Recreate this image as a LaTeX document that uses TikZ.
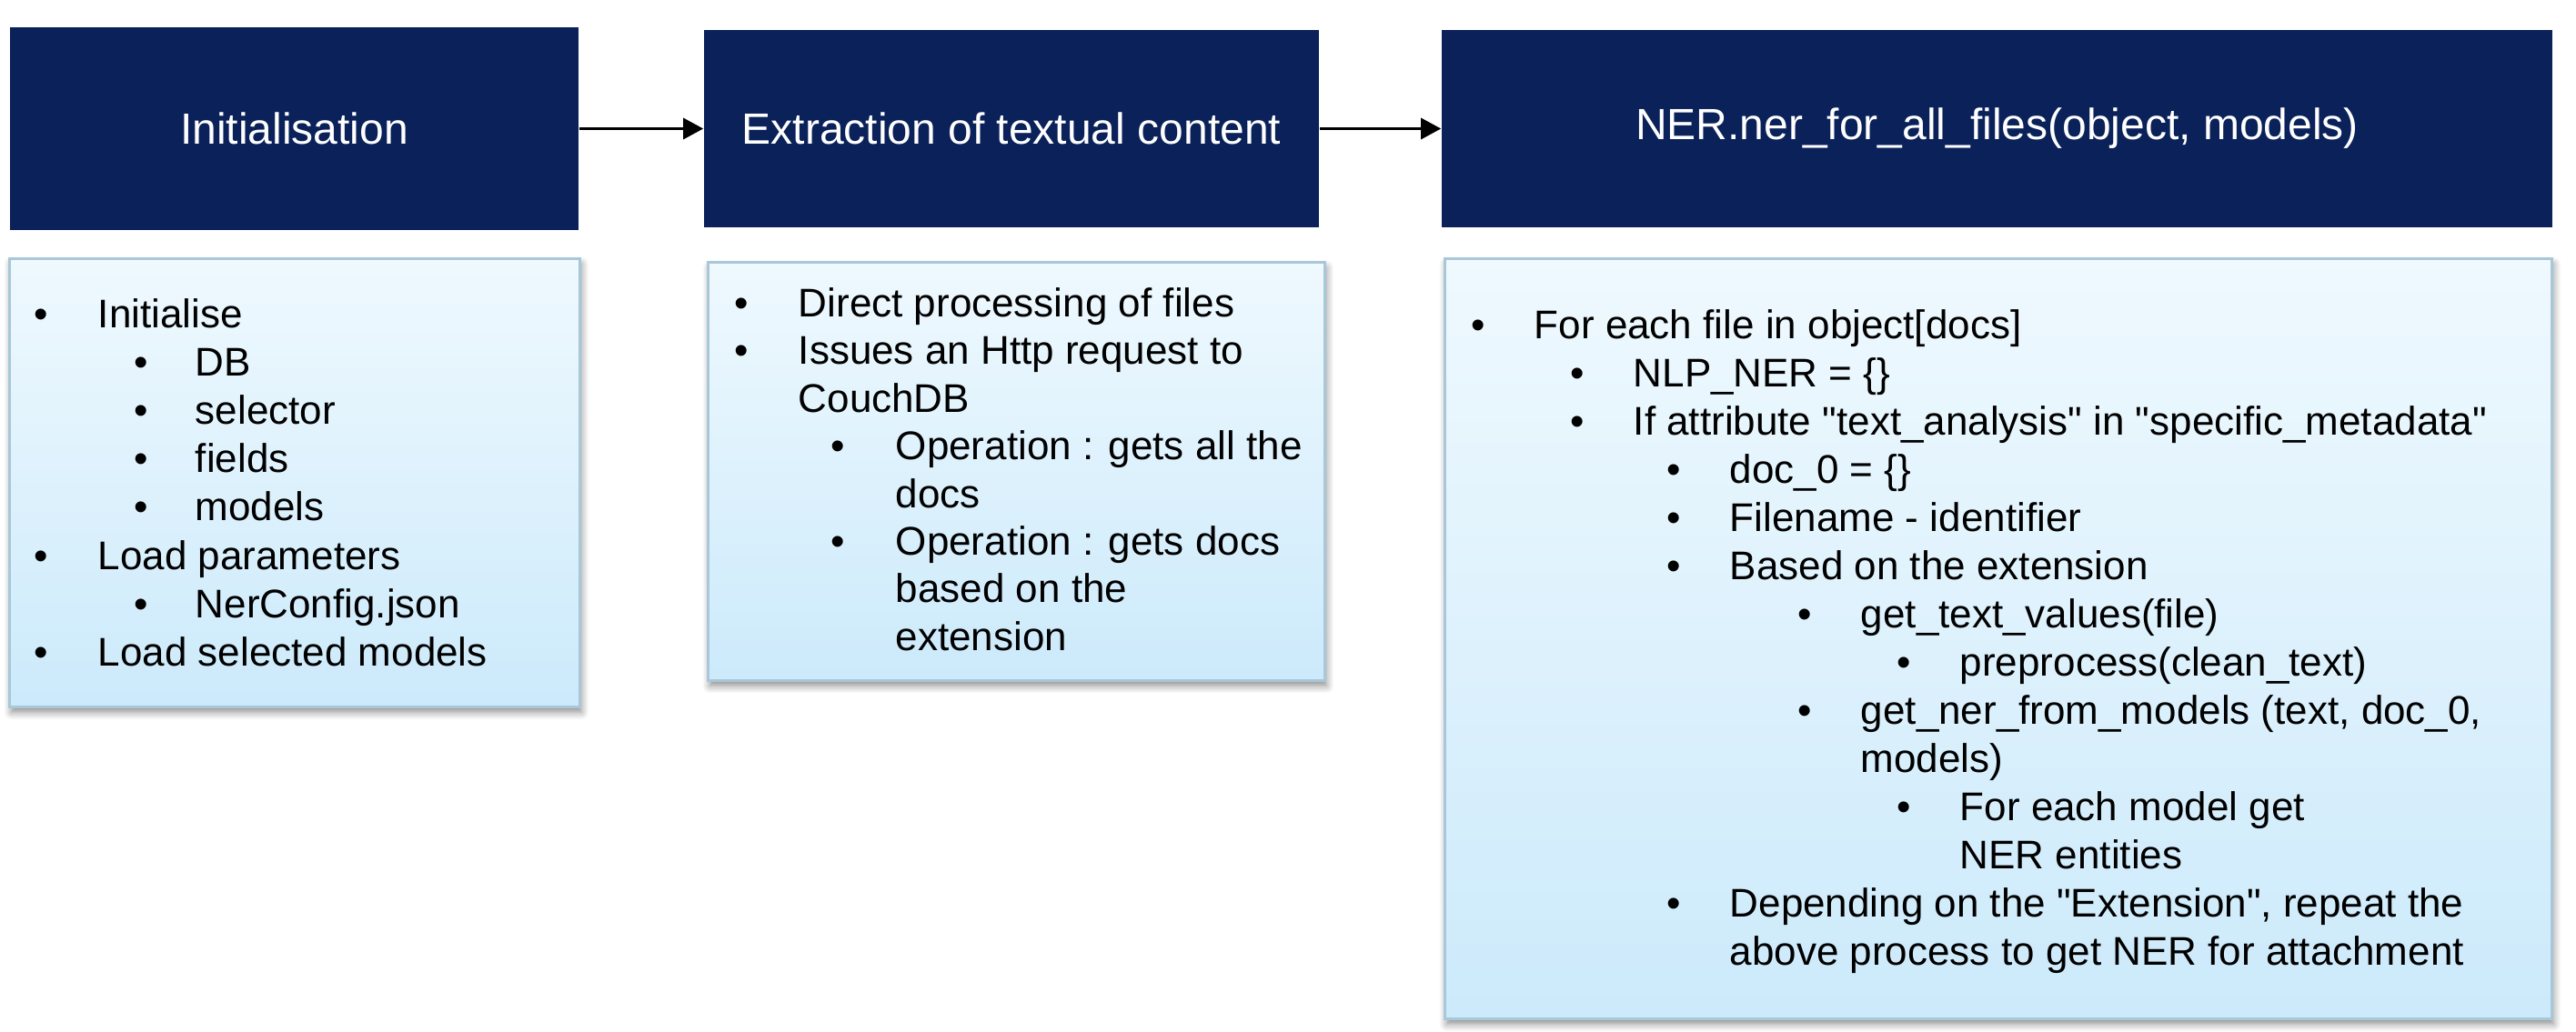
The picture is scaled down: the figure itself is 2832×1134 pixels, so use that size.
\documentclass[tikz,border=0pt]{standalone}
\usepackage{fontspec}
\setmainfont{Liberation Sans}[Ligatures=TeXOff]
\usetikzlibrary{arrows.meta,shadows.blur}
\definecolor{navy}{RGB}{10,33,90}
\definecolor{boxtop}{RGB}{239,249,254}
\definecolor{boxbot}{RGB}{204,234,251}
\definecolor{boxline}{RGB}{168,199,216}
\newcommand\itemline[5]{%
  \node[bulletsty] (#1b) at (#2,#4) {\textbullet};
  \node[linesty] (#1) at (#3,#4) {#5};}
\newcommand\contline[4]{%
  \node[linesty] (#1) at (#2,#3) {#4};}
\begin{document}
\begin{tikzpicture}[x=0.25pt,y=-0.25pt,
  hdr/.style={fill=navy, draw=none, text=white, inner sep=0pt,
    font=\fontsize{12}{14}\selectfont},
  cbox/.style={draw=boxline, line width=0.75pt, top color=boxtop, bottom color=boxbot,
    inner sep=0pt,
    blur shadow={shadow xshift=0.6pt, shadow yshift=-1.6pt, shadow blur radius=2pt,
      shadow blur steps=6, shadow opacity=45}},
  bulletsty/.style={anchor=base, inner sep=0pt, font=\fontsize{11}{13}\selectfont},
  linesty/.style={anchor=base west, inner sep=0pt, font=\fontsize{11}{13}\selectfont},
  conn/.style={line width=0.75pt, -{Triangle[length=5.5pt,width=5.75pt]}}
]
\useasboundingbox (0,0) rectangle (2832,1134);

% header boxes
\node[hdr, minimum width=156.25pt, minimum height=55.75pt] (h1) at (323.5,141.5) {Initialisation};
\node[hdr, minimum width=169pt, minimum height=54.25pt] (h2) at (1112,141.5) {Extraction of textual content};
\node[hdr, minimum width=305.25pt, minimum height=54.25pt] (h3) at (2195.5,141.5) {NER.ner\_for\_all\_files(object, models)};

\draw[conn] (h1) -- (h2);
\draw[conn] (h2) -- (h3);

% content boxes
\node[cbox, minimum width=156.75pt, minimum height=123.25pt] (c1) at (323.5,530.5) {};
\node[cbox, minimum width=169.5pt, minimum height=115pt] (c2) at (1117,518) {};
\node[cbox, minimum width=304.25pt, minimum height=209pt] (c3) at (2196.5,702) {};

% box 1 text
\itemline{a1}{45}{107}{360}{Initialise}
\itemline{a2}{155}{214}{413}{DB}
\itemline{a3}{155}{214}{466}{selector}
\itemline{a4}{155}{214}{519}{fields}
\itemline{a5}{155}{214}{572}{models}
\itemline{a6}{45}{107}{626}{Load parameters}
\itemline{a7}{155}{214}{679}{NerConfig.json}
\itemline{a8}{45}{107}{732}{Load selected models}

% box 2 text
\itemline{b1}{815}{877}{348}{Direct processing of files}
\itemline{b2}{815}{877}{400}{Issues an Http request to}
\contline{b3}{877}{453}{CouchDB}
\itemline{b4}{921}{984}{505}{Operation : gets all the}
\contline{b5}{984}{558}{docs}
\itemline{b6}{921}{984}{610}{Operation : gets docs}
\contline{b7}{984}{662}{based on the}
\contline{b8}{984}{715}{extension}

% box 3 text
\itemline{d1}{1625}{1686}{372}{For each file in object[docs]}
\itemline{d2}{1734}{1795}{425}{NLP\_NER = \{\}}
\itemline{d3}{1734}{1795}{478}{If attribute "text\_analysis" in "specific\_metadata"}
\itemline{d4}{1840}{1901}{531}{doc\_0 = \{\}}
\itemline{d5}{1840}{1901}{584}{Filename - identifier}
\itemline{d6}{1840}{1901}{637}{Based on the extension}
\itemline{d7}{1984}{2045}{690}{get\_text\_values(file)}
\itemline{d8}{2093}{2154}{743}{preprocess(clean\_text)}
\itemline{d9}{1984}{2045}{796}{get\_ner\_from\_models (text, doc\_0,}
\contline{d10}{2045}{849}{models)}
\itemline{d11}{2093}{2154}{902.5}{For each model get}
\contline{d12}{2154}{955.5}{NER entities}
\itemline{d13}{1840}{1901}{1008.5}{Depending on the "Extension", repeat the}
\contline{d14}{1901}{1061.5}{above process to get NER for attachment}
\end{tikzpicture}
\end{document}
